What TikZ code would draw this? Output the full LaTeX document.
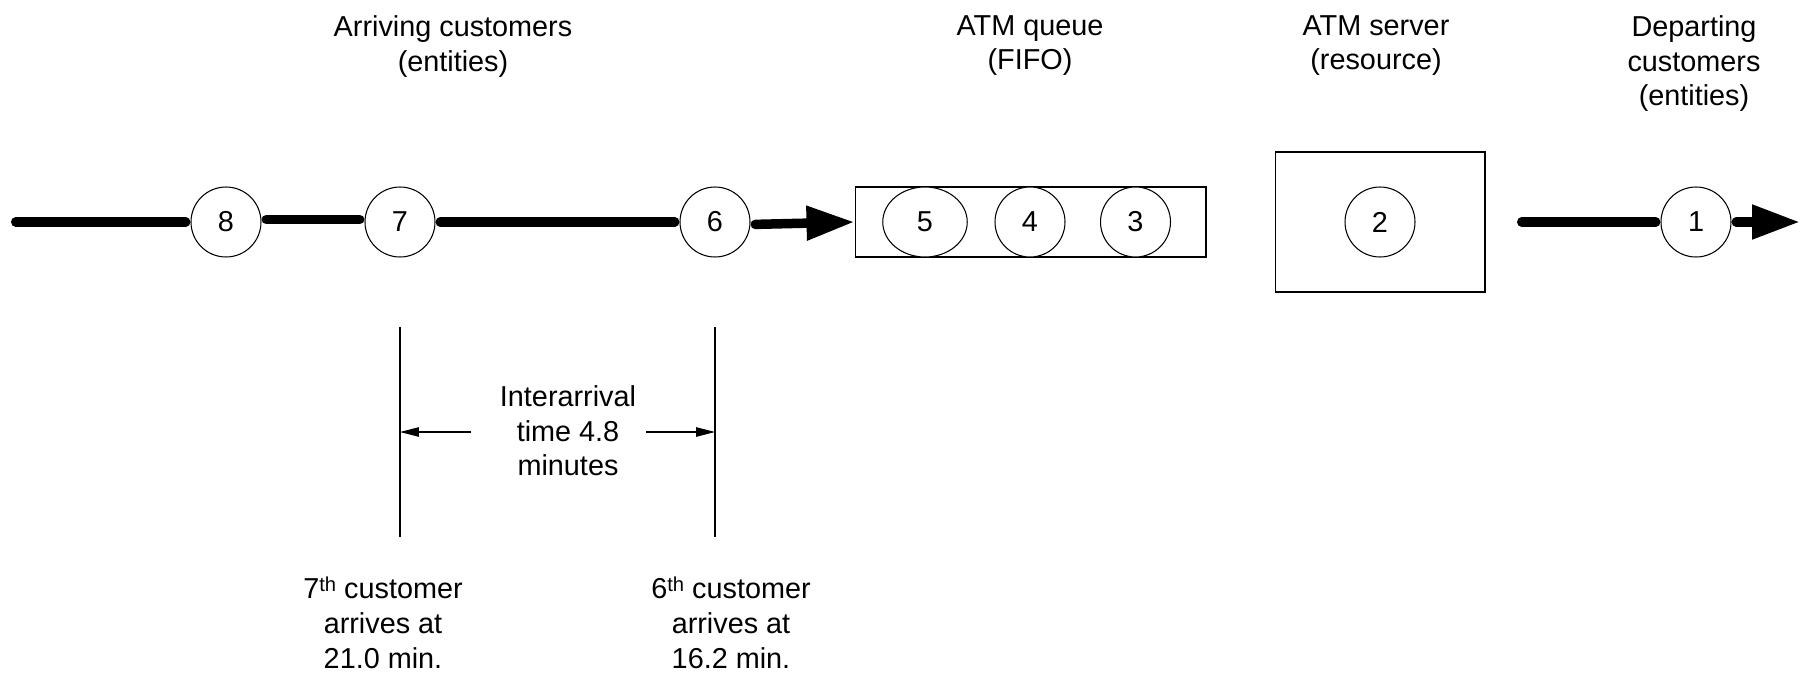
\documentclass[tikz,border=0pt]{standalone}
\usepackage{fontspec}
\setmainfont{Liberation Sans}
\usetikzlibrary{arrows.meta, positioning, shapes.geometric}
\newcommand{\ordsup}[1]{#1\raisebox{3.8pt}{\fontsize{11.5}{11.5}\selectfont th}}

\begin{document}
\begin{tikzpicture}[
    x=0.02cm, y=-0.02cm,
    font=\fontsize{16.4}{19.8}\selectfont,
    entity/.style={circle, draw, line width=0.6pt, fill=white, minimum size=1.4cm, inner sep=0pt},
    waiting/.style={ellipse, draw, line width=0.6pt, fill=white, minimum width=1.69cm, minimum height=1.4cm, inner sep=0pt},
    holder/.style={rectangle, draw, line width=0.6pt, inner sep=0pt},
    flow/.style={line width=0.19cm, line cap=round, shorten <=0.095cm, shorten >=0.095cm},
    flowarrow/.style={line width=0.19cm, line cap=round, shorten <=0.095cm, -{Triangle[length=0.96cm, width=0.65cm]}},
    dimline/.style={line width=0.6pt},
    dimarrow/.style={line width=0.6pt, -{Triangle[length=0.38cm, width=0.19cm]}},
    caption/.style={align=center, inner sep=0pt, anchor=north}
]
    \useasboundingbox (0,0) rectangle (1800,673);

    % Arriving customers
    \node[entity] (c8) at (226,222) {8};
    \node[entity] (c7) at (400,222) {7};
    \node[entity] (c6) at (715,222) {6};

    % Queue and server
    \node[holder, minimum width=7.02cm, minimum height=1.4cm] (queue) at (1030.5,222) {};
    \node[waiting] (q5) at (925,222) {5};
    \node[entity] (q4) at (1030,222) {4};
    \node[entity] (q3) at (1135.5,222) {3};
    \node[holder, minimum width=4.2cm, minimum height=2.8cm] (server) at (1380,222) {};
    \node[entity] (s2) at (server) {2};

    % Departing customer
    \node[entity] (c1) at (1696,222) {1};

    % Flow of entities
    \coordinate (enter) at (11,222);
    \coordinate (leave) at (1517,222);
    \coordinate (exit) at (1800,222);
    \draw[flow] (enter) -- (c8);
    \draw[flow] ([yshift=0.05cm]c8.east) -- ([yshift=0.05cm]c7.west);
    \draw[flow] (c7) -- (c6);
    \draw[flowarrow] ([yshift=-0.05cm]c6.east) -- (queue.west);
    \draw[flow] (leave) -- (c1);
    \draw[flowarrow] (c1) -- (exit);

    % Interarrival time
    \path (c7) ++(0,105) coordinate (t7) ++(0,210) coordinate (b7);
    \path (c6) ++(0,105) coordinate (t6) ++(0,210) coordinate (b6);
    \draw[dimline] (t7) -- (b7);
    \draw[dimline] (t6) -- (b6);
    \node[caption] (gap) at (568,385) {Interarrival\\time 4.8\\minutes};
    \coordinate (gapL) at (471,432);
    \coordinate (gapR) at (646,432);
    \draw[dimarrow] (gapL) -- (gapL -| t7);
    \draw[dimarrow] (gapR) -- (gapR -| t6);

    % Arrival times
    \node[caption] (arr7) at (383,577) {\ordsup{7} customer\\arrives at\\21.0 min.};
    \node[caption] (arr6) at (731,577) {\ordsup{6} customer\\arrives at\\16.2 min.};

    % Headings
    \node[caption] (arrive) at (453,15) {Arriving customers\\(entities)};
    \node[caption] (qlabel) at (1030,15) {ATM queue\\(FIFO)};
    \node[caption] (slabel) at (1376,15) {ATM server\\(resource)};
    \node[caption] (depart) at (1694,15) {Departing\\customers\\(entities)};
\end{tikzpicture}
\end{document}
